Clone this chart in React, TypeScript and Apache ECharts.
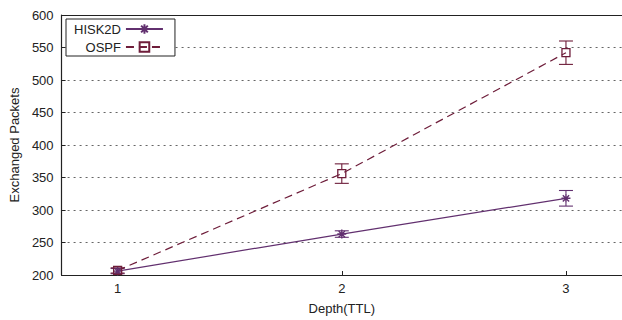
import React, { useEffect, useRef } from "react";
import * as echarts from "echarts";

// Depth (TTL) values on the x axis
const depth = [1, 2, 3];

// Mean exchanged packets and error half-widths per series
const hisk2dMean = [206, 263, 318];
const hisk2dErr = [4, 5, 12];
const ospfMean = [207, 356, 542];
const ospfErr = [4, 15, 18];

// Axis ticks
const xTicks = [1, 2, 3];
const yMin = 200;
const yMax = 600;
const yStep = 50;

const HISK_COLOR = "#62306f";
const OSPF_COLOR = "#6e1d3a";
const FONT = "'Liberation Sans', Arial, Helvetica, sans-serif";

const ASTERISK = "path://M5,0V10M0,5H10M1.5,1.5L8.5,8.5M8.5,1.5L1.5,8.5";
const SQUARE = "path://M0,0H10V10H0Z";

function errorBars(color: string, markerHalf: number) {
  return (_params: any, api: any) => {
    const x = api.value(0);
    const pm = api.coord([x, api.value(1)]);
    const pl = api.coord([x, api.value(2)]);
    const ph = api.coord([x, api.value(3)]);
    const cap = 7;
    const style = { stroke: color, lineWidth: 1.1 };
    const children: any[] = [
      { type: "line", shape: { x1: ph[0] - cap, y1: ph[1], x2: ph[0] + cap, y2: ph[1] }, style },
      { type: "line", shape: { x1: pl[0] - cap, y1: pl[1], x2: pl[0] + cap, y2: pl[1] }, style },
    ];
    if (ph[1] < pm[1] - markerHalf) {
      children.push({ type: "line", shape: { x1: ph[0], y1: ph[1], x2: pm[0], y2: pm[1] - markerHalf }, style });
    }
    if (pl[1] > pm[1] + markerHalf) {
      children.push({ type: "line", shape: { x1: pl[0], y1: pm[1] + markerHalf, x2: pl[0], y2: pl[1] }, style });
    }
    return { type: "group", children };
  };
}

export default function App() {
  const ref = useRef<HTMLDivElement>(null);

  useEffect(() => {
    if (!ref.current) return;
    const chart = echarts.init(ref.current, null, { renderer: "svg" });

    const hiskLine = depth.map((d, i) => [d, hisk2dMean[i]]);
    const ospfLine = depth.map((d, i) => [d, ospfMean[i]]);
    const hiskErr = depth.map((d, i) => [d, hisk2dMean[i], hisk2dMean[i] - hisk2dErr[i], hisk2dMean[i] + hisk2dErr[i]]);
    const ospfErrData = depth.map((d, i) => [d, ospfMean[i], ospfMean[i] - ospfErr[i], ospfMean[i] + ospfErr[i]]);

    const axisLineStyle = { color: "#222", width: 1.2 };

    chart.setOption({
      animation: false,
      backgroundColor: "#fff",
      textStyle: { fontFamily: FONT },
      grid: { left: 58, right: -4, top: 15, bottom: 40, show: false },
      legend: {
        data: ["HISK2D", "OSPF"],
        orient: "vertical",
        align: "right",
        left: 66,
        top: 19,
        padding: [3, 11, 2, 8],
        itemGap: 4,
        itemWidth: 37,
        itemHeight: 12,
        borderColor: "#222",
        borderWidth: 1,
        borderRadius: 0,
        backgroundColor: "#fff",
        textStyle: { fontFamily: FONT, fontSize: 13, color: "#222", lineHeight: 14 },
        z: 10,
      },
      xAxis: [
        {
          type: "value",
          min: 0.75,
          max: 3.25,
          name: "Depth(TTL)",
          nameLocation: "middle",
          nameGap: 27,
          nameTextStyle: { fontFamily: FONT, fontSize: 13, color: "#222" },
          axisLine: { show: true, lineStyle: axisLineStyle },
          axisTick: { show: true, inside: true, length: 4, customValues: xTicks, lineStyle: { color: "#222" } },
          axisLabel: { customValues: xTicks, margin: 7, fontFamily: FONT, fontSize: 13, color: "#222" },
          splitLine: { show: false },
        },
        {
          // top frame line
          type: "value",
          position: "top",
          min: 0.75,
          max: 3.25,
          axisLine: { show: true, lineStyle: axisLineStyle },
          axisTick: { show: false },
          axisLabel: { show: false },
          splitLine: { show: false },
        },
      ],
      yAxis: {
        type: "value",
        min: yMin,
        max: yMax,
        interval: yStep,
        name: "Exchanged Packets",
        nameLocation: "middle",
        nameGap: 37,
        nameTextStyle: { fontFamily: FONT, fontSize: 13, color: "#222" },
        axisLine: { show: true, lineStyle: axisLineStyle },
        axisTick: { show: true, inside: true, length: 4, lineStyle: { color: "#222" } },
        axisLabel: { margin: 8, fontFamily: FONT, fontSize: 13, color: "#222" },
        splitLine: { show: true, lineStyle: { color: "#666", width: 1, type: [2, 4] } },
      },
      series: [
        {
          name: "HISK2D",
          type: "line",
          data: hiskLine,
          symbol: ASTERISK,
          symbolSize: 9,
          showSymbol: true,
          lineStyle: { color: HISK_COLOR, width: 1.2, type: "solid" },
          itemStyle: { color: "transparent", borderColor: HISK_COLOR, borderWidth: 1.4 },
          z: 3,
        },
        {
          name: "OSPF",
          type: "line",
          data: ospfLine,
          symbol: SQUARE,
          symbolSize: 8,
          showSymbol: true,
          lineStyle: { color: OSPF_COLOR, width: 1.2, type: [8, 5] },
          itemStyle: { color: "transparent", borderColor: OSPF_COLOR, borderWidth: 1.3 },
          z: 3,
        },
        {
          name: "HISK2D error",
          type: "custom",
          data: hiskErr,
          encode: { x: 0, y: 1 },
          renderItem: errorBars(HISK_COLOR, 4.5),
          z: 2,
        },
        {
          name: "OSPF error",
          type: "custom",
          data: ospfErrData,
          encode: { x: 0, y: 1 },
          renderItem: errorBars(OSPF_COLOR, 4),
          z: 2,
        },
      ],
    });

    return () => chart.dispose();
  }, []);

  return (
    <div
      ref={ref}
      style={{ position: "fixed", left: 0, top: 0, width: 622, height: 320 }}
    />
  );
}
